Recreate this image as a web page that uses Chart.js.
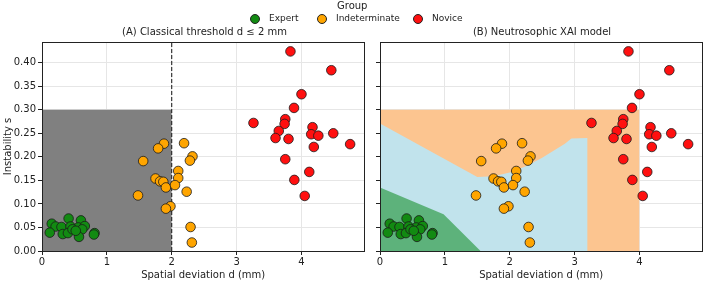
<!DOCTYPE html>
<html>
<head>
<meta charset="utf-8">
<script src="https://cdn.jsdelivr.net/npm/chart.js@4.4.1/dist/chart.umd.min.js"></script>
<style>
  body { margin: 0; background: #fff; font-family: "DejaVu Sans", sans-serif; }
  #wrap { position: relative; width: 708px; height: 282px; overflow: hidden; }
  .box { position: absolute; top: 0; }
  .txt { position: absolute; color: #222; white-space: nowrap; }
  .dot { position: absolute; width: 10px; height: 10px; border-radius: 50%; border: 1px solid #222; box-sizing: border-box; }
</style>
</head>
<body>
<div id="wrap">
  <div class="box" style="left:0;width:370px;height:282px"><canvas id="chartA" width="370" height="282"></canvas></div>
  <div class="box" style="left:370px;width:338px;height:282px"><canvas id="chartB" width="338" height="282"></canvas></div>

  <div class="txt" style="left:337px;top:0px;font-size:10px">Group</div>
  <div class="dot" style="left:250px;top:14px;background:#128a12"></div>
  <div class="txt" style="left:269px;top:13px;font-size:9px">Expert</div>
  <div class="dot" style="left:317px;top:14px;background:#ffa500"></div>
  <div class="txt" style="left:336px;top:13px;font-size:9px">Indeterminate</div>
  <div class="dot" style="left:413px;top:14px;background:#ff1010"></div>
  <div class="txt" style="left:432px;top:13px;font-size:9px">Novice</div>

  <div class="txt" style="left:0;width:409px;top:26px;font-size:10px;text-align:center">(A) Classical threshold d ≤ 2 mm</div>
  <div class="txt" style="left:380px;width:324px;top:26px;font-size:10px;text-align:center">(B) Neutrosophic XAI model</div>
</div>
<script>
// group data (d in mm, s instability)
const expertD = [0.41, 0.15, 0.60, 0.21, 0.30, 0.44, 0.56, 0.66, 0.12, 0.32, 0.40, 0.47, 0.62, 0.57, 0.81, 0.80, 0.52];
const expertS = [0.069, 0.058, 0.065, 0.052, 0.051, 0.052, 0.050, 0.053, 0.039, 0.036, 0.038, 0.046, 0.046, 0.030, 0.038, 0.035, 0.043];

const indetD = [1.88, 1.79, 2.19, 2.32, 2.28, 1.56, 2.10, 2.10, 1.75, 1.82, 1.87, 1.91, 2.05, 2.23, 1.48, 1.98, 1.91, 2.29, 2.31];
const indetS = [0.228, 0.218, 0.229, 0.201, 0.192, 0.191, 0.170, 0.155, 0.154, 0.148, 0.147, 0.135, 0.140, 0.126, 0.118, 0.095, 0.090, 0.051, 0.018];

const noviceD = [3.83, 4.46, 4.00, 3.885, 3.26, 3.75, 3.74, 3.65, 3.60, 3.80, 4.17, 4.15, 4.26, 4.49, 4.75, 4.19, 3.75, 4.12, 3.89, 4.05];
const noviceS = [0.424, 0.384, 0.333, 0.304, 0.272, 0.280, 0.270, 0.255, 0.240, 0.238, 0.263, 0.248, 0.245, 0.250, 0.227, 0.221, 0.195, 0.168, 0.151, 0.117];

// panel A threshold box
const grayD = [0, 2, 2];
const grayS = [0.30, 0.30, 0];
const cutD = [2, 2];
const cutS = [0, 0.444];

// panel B decision regions (upper edges, filled down to s = 0)
const orangeD = [0, 4.0, 4.0];
const orangeS = [0.30, 0.30, 0];
const blueD = [0, 1.50, 1.75, 2.0, 2.25, 2.5, 2.7, 2.85, 2.95, 3.2, 3.2];
const blueS = [0.271, 0.157, 0.159, 0.167, 0.180, 0.198, 0.215, 0.228, 0.239, 0.240, 0];
const greenD = [0, 0.98, 1.55];
const greenS = [0.135, 0.078, 0];

const xTicks = [0, 1, 2, 3, 4];
const yTicks = [0, 0.05, 0.10, 0.15, 0.20, 0.25, 0.30, 0.35, 0.40];

const toPts = (xs, ys) => xs.map((x, i) => ({ x: x, y: ys[i] }));

const pointSet = (label, xs, ys, color) => ({
  type: "scatter",
  label: label,
  data: toPts(xs, ys),
  backgroundColor: color,
  borderColor: "#1a1a1a",
  borderWidth: 0.8,
  pointRadius: 4.8,
});

const areaSet = (xs, ys, color) => ({
  type: "line",
  data: toPts(xs, ys),
  borderWidth: 0,
  borderColor: color,
  backgroundColor: color,
  pointRadius: 0,
  fill: "origin",
  tension: 0,
});

// black box around the plot, like matplotlib spines
const frame = {
  id: "frame",
  afterDraw(chart) {
    const a = chart.chartArea;
    const c = chart.ctx;
    c.save();
    c.strokeStyle = "#222";
    c.lineWidth = 1;
    c.strokeRect(Math.round(a.left) + 0.5, Math.round(a.top) + 0.5, Math.round(a.right - a.left), Math.round(a.bottom - a.top));
    c.restore();
  },
};

const tickFont = { family: "DejaVu Sans", size: 10 };

const makeScales = (showY) => ({
  x: {
    type: "linear",
    min: 0,
    max: 4.97,
    afterBuildTicks: (s) => { s.ticks = xTicks.map((v) => ({ value: v })); },
    afterFit: (s) => { s.height = 31; },
    grid: { color: "#e6e6e6", tickColor: "#222", tickLength: 4 },
    border: { color: "#222" },
    ticks: { color: "#222", font: tickFont, padding: 1, maxRotation: 0 },
    title: { display: true, text: "Spatial deviation d (mm)", color: "#222", font: tickFont, padding: { top: 0, bottom: 1 } },
  },
  y: {
    type: "linear",
    min: 0,
    max: 0.444,
    afterBuildTicks: (s) => { s.ticks = yTicks.map((v) => ({ value: v })); },
    afterFit: (s) => { s.width = showY ? 42 : 10; },
    grid: { color: "#e6e6e6", tickColor: "#222", tickLength: 4 },
    border: { color: "#222" },
    ticks: { color: "#222", font: tickFont, padding: 2, callback: (v) => (showY ? v.toFixed(2) : "") },
    title: { display: showY, text: "Instability s", color: "#222", font: tickFont, padding: { top: 2, bottom: 0 } },
  },
});

const baseOptions = (showY, right) => ({
  responsive: false,
  devicePixelRatio: 1,
  animation: false,
  layout: { padding: { top: 42, right: right, left: 0, bottom: 0 } },
  plugins: { legend: { display: false }, tooltip: { enabled: false } },
  scales: makeScales(showY),
});

// points first so they end up on top
const groupSets = () => [
  pointSet("Expert", expertD, expertS, "#128a12"),
  pointSet("Indeterminate", indetD, indetS, "#ffa500"),
  pointSet("Novice", noviceD, noviceS, "#ff1010"),
];

const dashed = {
  type: "line",
  data: toPts(cutD, cutS),
  borderColor: "#111",
  borderWidth: 1,
  borderDash: [4, 2],
  pointRadius: 0,
  fill: false,
};

new Chart(document.getElementById("chartA").getContext("2d"), {
  type: "scatter",
  data: { datasets: [...groupSets(), dashed, areaSet(grayD, grayS, "#808080")] },
  options: baseOptions(true, 3),
  plugins: [frame],
});

new Chart(document.getElementById("chartB").getContext("2d"), {
  type: "scatter",
  data: {
    datasets: [
      ...groupSets(),
      areaSet(greenD, greenS, "#5db27b"),
      areaSet(blueD, blueS, "#c1e3ec"),
      areaSet(orangeD, orangeS, "#fcc590"),
    ],
  },
  options: baseOptions(false, 4),
  plugins: [frame],
});
</script>
</body>
</html>
